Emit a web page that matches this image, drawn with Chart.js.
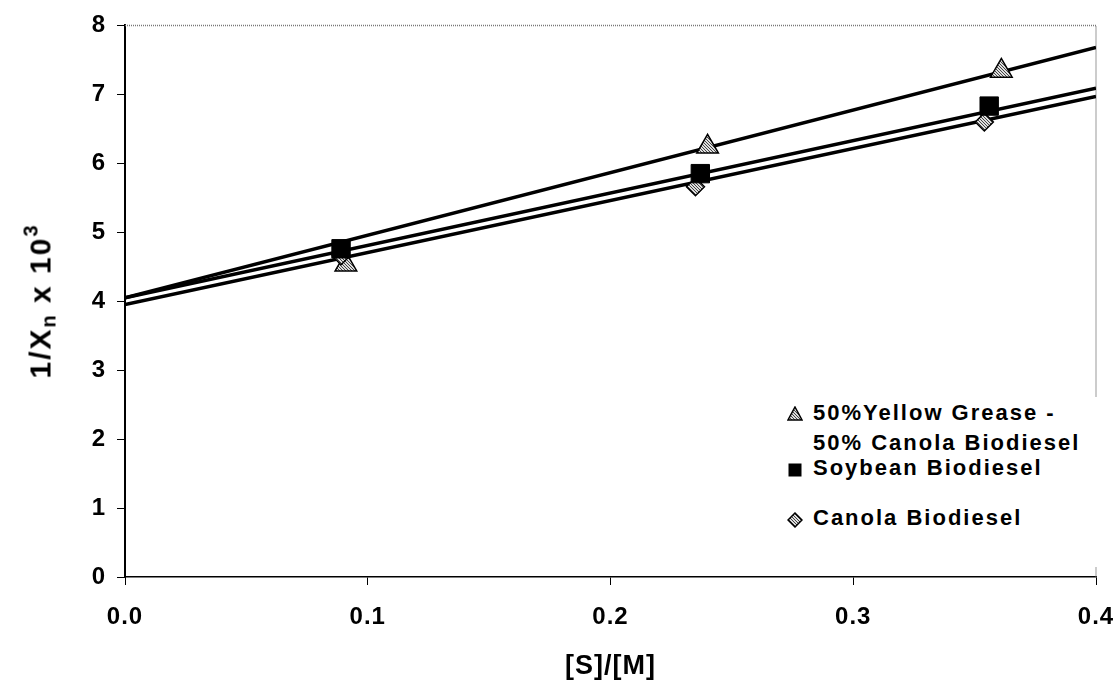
<!DOCTYPE html>
<html>
<head>
<meta charset="utf-8">
<script src="https://cdn.jsdelivr.net/npm/chart.js@4.4.1/dist/chart.umd.min.js"></script>
<style>
  html, body { margin: 0; padding: 0; background: #fff; }
  #wrap { position: relative; width: 1117px; height: 686px; font-family: "Liberation Sans", Arial, sans-serif; font-weight: bold; color: #000; }
  #chart { position: absolute; left: 0; top: 0; }
  #ytitle { position: absolute; left: 40px; top: 301px; transform: translate(-50%, -50%) rotate(-90deg); white-space: nowrap; font-size: 30px; letter-spacing: 2px; }
  #ytitle sub { font-size: 20px; vertical-align: -5px; }
  #ytitle sup { font-size: 20px; vertical-align: 13px; }
  #legend { position: absolute; left: 785px; top: 397px; width: 318px; height: 170px; background: #fff; }
  #legend span { position: absolute; left: 28px; line-height: 30px; font-size: 22px; letter-spacing: 2px; white-space: nowrap; }
  #legend svg { position: absolute; left: 2px; }
</style>
</head>
<body>
<div id="wrap">
  <canvas id="chart" width="1117" height="686"></canvas>
  <div id="ytitle">1/X<sub>n</sub> x 10<sup>3</sup></div>
  <div id="legend">
    <svg width="16" height="16" style="top:9px"><defs><pattern id="h" width="3" height="3" patternUnits="userSpaceOnUse"><rect width="3" height="3" fill="#ddd"/><rect width="1" height="1" fill="#444"/><rect x="1" y="1" width="1" height="1" fill="#444"/><rect x="2" y="2" width="1" height="1" fill="#444"/></pattern></defs><polygon points="8,1 15,14 1,14" fill="url(#h)" stroke="#000" stroke-width="1.5"/></svg>
    <span style="top:1px">50%Yellow Grease -</span>
    <span style="top:31px">50% Canola Biodiesel</span>
    <svg width="16" height="16" style="top:65px"><rect x="1.5" y="1.5" width="13" height="13" fill="#000"/></svg>
    <span style="top:56px">Soybean Biodiesel</span>
    <svg width="16" height="16" style="top:115px"><polygon points="8,1 15,8 8,15 1,8" fill="url(#h)" stroke="#000" stroke-width="1.5"/></svg>
    <span style="top:106px">Canola Biodiesel</span>
  </div>
</div>
<script>
// measured points
const greaseX = [0.091, 0.240, 0.361];
const greaseY = [4.53, 6.24, 7.34];
const soyX = [0.089, 0.237, 0.356];
const soyY = [4.76, 5.85, 6.83];
const canolaX = [0.089, 0.235, 0.354];
const canolaY = [4.66, 5.66, 6.60];

// trend lines (ends at x = 0 and x = 0.4)
const fitX = [0, 0.4];
const greaseFit = [4.05, 7.68];
const soyFit = [4.05, 7.09];
const canolaFit = [3.95, 6.97];

const xTicks = [0, 0.1, 0.2, 0.3, 0.4];
const yTicks = [0, 1, 2, 3, 4, 5, 6, 7, 8];

function pts(xs, ys) {
    return xs.map((x, i) => ({ x: x, y: ys[i] }));
}

function hatch() {
    const c = document.createElement('canvas');
    c.width = 3; c.height = 3;
    const g = c.getContext('2d');
    g.fillStyle = '#ddd';
    g.fillRect(0, 0, 3, 3);
    g.fillStyle = '#444';
    g.fillRect(0, 0, 1, 1); g.fillRect(1, 1, 1, 1); g.fillRect(2, 2, 1, 1);
    return g.createPattern(c, 'repeat');
}
const hatchFill = hatch();

const frame = {
    id: 'frame',
    beforeDraw(chart) {
        chart.ctx.letterSpacing = '1px';
    },
    beforeDatasetsDraw(chart) {
        const a = chart.chartArea;
        const ctx = chart.ctx;
        ctx.save();
        ctx.strokeStyle = '#777';
        ctx.lineWidth = 1.5;
        ctx.setLineDash([1, 1]);
        ctx.beginPath();
        ctx.moveTo(a.left, a.top);
        ctx.lineTo(a.right, a.top);
        ctx.lineTo(a.right, a.bottom);
        ctx.stroke();
        ctx.restore();
    }
};

const lineStyle = { showLine: true, borderColor: '#000', borderWidth: 3.5, pointRadius: 0, fill: false };

new Chart(document.getElementById('chart'), {
    type: 'scatter',
    data: {
        datasets: [
            { label: 'Soybean Biodiesel', data: pts(soyX, soyY), pointStyle: 'rect', pointRadius: 13,
              backgroundColor: '#000', borderColor: '#000', borderWidth: 1 },
            { label: 'Canola Biodiesel', data: pts(canolaX, canolaY), pointStyle: 'rectRot', pointRadius: 9,
              backgroundColor: hatchFill, borderColor: '#000', borderWidth: 1.5 },
            { label: '50%Yellow Grease - 50% Canola Biodiesel', data: pts(greaseX, greaseY), pointStyle: 'triangle', pointRadius: 12.5,
              backgroundColor: hatchFill, borderColor: '#000', borderWidth: 1.5 },
            Object.assign({ data: pts(fitX, greaseFit) }, lineStyle),
            Object.assign({ data: pts(fitX, soyFit) }, lineStyle),
            Object.assign({ data: pts(fitX, canolaFit) }, lineStyle)
        ]
    },
    options: {
        responsive: false,
        animation: false,
        layout: { padding: { top: 24, right: 21, bottom: 0, left: 0 } },
        plugins: { legend: { display: false }, tooltip: { enabled: false } },
        scales: {
            x: {
                type: 'linear', min: 0, max: 0.4,
                afterBuildTicks: s => { s.ticks = xTicks.map(v => ({ value: v })); },
                afterFit: s => { s.height = 109; s.paddingLeft = 0; s.paddingRight = 0; },
                border: { display: true, color: '#000', width: 1.5 },
                grid: { drawOnChartArea: false, drawTicks: true, tickLength: 8, color: '#000' },
                ticks: { color: '#000', padding: 18, font: { family: 'Liberation Sans', size: 24, weight: 'bold' },
                         callback: v => v.toFixed(1) },
                title: { display: true, text: '[S]/[M]', color: '#000', padding: { top: 0, bottom: 3 },
                         font: { family: 'Liberation Sans', size: 27, weight: 'bold' } }
            },
            y: {
                type: 'linear', min: 0, max: 8,
                afterBuildTicks: s => { s.ticks = yTicks.map(v => ({ value: v })); },
                afterFit: s => { s.width = 125; },
                border: { display: true, color: '#000', width: 2 },
                grid: { drawOnChartArea: false, drawTicks: true, tickLength: 8, color: '#000' },
                ticks: { color: '#000', padding: 11, font: { family: 'Liberation Sans', size: 24, weight: 'bold' } }
            }
        }
    },
    plugins: [frame]
});
</script>
</body>
</html>
